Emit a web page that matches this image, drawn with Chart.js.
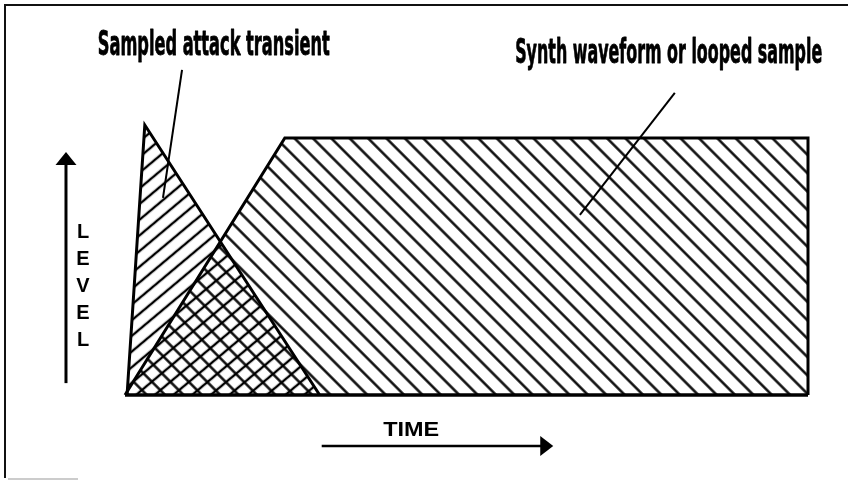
<!DOCTYPE html>
<html><head><meta charset="utf-8">
<script src="https://cdn.jsdelivr.net/npm/chart.js@4"></script>
<style>html,body{margin:0;padding:0;background:#fff;}#wrap{width:857px;height:480px;}</style>
</head><body><div id="wrap"><canvas id="c" width="857" height="480"></canvas></div>
<script>
// ---- data (time / level, arbitrary units 0..100) ----
const transientTime  = [0.3, 2.9, 28.5];
const transientLevel = [0, 100, 0];
const synthTime      = [0, 23.4, 100, 100];
const synthLevel     = [0, 95.2, 95.2, 0];
const baseTime       = [0, 100];
const baseLevel      = [0, 0];
const leaderTransientTime  = [8.35, 5.56];
const leaderTransientLevel = [120.4, 73];
const leaderSynthTime      = [80.5, 66.6];
const leaderSynthLevel     = [111.9, 66.7];
const labelTransient = "Sampled attack transient";
const labelSynth = "Synth waveform or looped sample";
const labelTime = "TIME";
const labelLevel = ["L", "E", "V", "E", "L"];

const pts = (xs, ys) => xs.map((x, i) => ({x, y: ys[i]}));

const canvas = document.getElementById('c');
const ctx = canvas.getContext('2d');

function hatch(angleDeg, spacing, lw) {
  const t = document.createElement('canvas');
  t.width = 64;
  t.height = Math.max(4, Math.round(spacing));
  const g = t.getContext('2d');
  g.fillStyle = '#000';
  g.fillRect(0, (t.height - lw) / 2, 64, lw);
  const p = ctx.createPattern(t, 'repeat');
  p.setTransform(new DOMMatrix().rotateSelf(angleDeg));
  return p;
}
const hatchSynth = hatch(45, 12.5, 2.4);
const hatchTransient = hatch(-40, 11.5, 2.4);

// layout of decorations, in data units
const deco = {
  transientText: {x: 13.0, y: 126.0, w: 232, size: 34},
  synthText: {x: 79.6, y: 123.0, w: 307, size: 34},
  timeText: {x: 41.9, y: -15.2, w: 56, size: 21},
  levelX: -6.15, levelY: [60.7, 50.4, 40.4, 30.4, 20.7], levelSize: 20,
  levelArrow: {x: -8.64, y0: 4.4, y1: 90.0},
  timeArrow: {y: -18.9, x0: 28.8, x1: 62.7}
};

function fitText(c, text, cx, base, width, font, stroke) {
  c.save();
  c.font = font;
  const m = c.measureText(text).width;
  c.translate(cx, base);
  c.scale(width / m, 1);
  c.textAlign = 'center';
  c.textBaseline = 'alphabetic';
  c.fillStyle = '#000';
  c.fillText(text, 0, 0);
  if (stroke) { c.strokeStyle = '#000'; c.lineWidth = stroke; c.lineJoin = 'round'; c.strokeText(text, 0, 0); }
  c.restore();
}

const decorPlugin = {
  id: 'decor',
  afterDraw(chart) {
    const c = chart.ctx, xs = chart.scales.x, ys = chart.scales.y;
    const X = v => xs.getPixelForValue(v), Y = v => ys.getPixelForValue(v);
    c.save();
    // frame
    c.strokeStyle = '#111'; c.lineWidth = 2;
    c.beginPath(); c.moveTo(5, 478); c.lineTo(5, 5); c.lineTo(848, 5); c.stroke();
    c.strokeStyle = '#bbb'; c.lineWidth = 1.5;
    c.beginPath(); c.moveTo(8, 479); c.lineTo(78, 479); c.stroke();
    // labels
    const cond = '"Liberation Sans Narrow", "DejaVu Sans Condensed", sans-serif';
    fitText(c, labelTransient, X(deco.transientText.x), Y(deco.transientText.y), deco.transientText.w, `bold ${deco.transientText.size}px ${cond}`, 0.8);
    fitText(c, labelSynth, X(deco.synthText.x), Y(deco.synthText.y), deco.synthText.w, `bold ${deco.synthText.size}px ${cond}`, 0.8);
    fitText(c, labelTime, X(deco.timeText.x), Y(deco.timeText.y), deco.timeText.w, `bold ${deco.timeText.size}px "Liberation Sans", Arial, sans-serif`, 0);
    // LEVEL
    c.font = `bold ${deco.levelSize}px "Liberation Sans", Arial, sans-serif`;
    c.textAlign = 'center'; c.textBaseline = 'middle'; c.fillStyle = '#000';
    labelLevel.forEach((ch, i) => c.fillText(ch, X(deco.levelX), Y(deco.levelY[i]) + 1));
    // level arrow
    const ax = X(deco.levelArrow.x), ay0 = Y(deco.levelArrow.y0), ay1 = Y(deco.levelArrow.y1);
    c.strokeStyle = '#000'; c.lineWidth = 3;
    c.beginPath(); c.moveTo(ax, ay0); c.lineTo(ax, ay1 + 10); c.stroke();
    c.beginPath(); c.moveTo(ax, ay1); c.lineTo(ax - 10.5, ay1 + 13); c.lineTo(ax + 10.5, ay1 + 13); c.closePath(); c.fill();
    // time arrow
    const ty = Y(deco.timeArrow.y), tx0 = X(deco.timeArrow.x0), tx1 = X(deco.timeArrow.x1);
    c.lineWidth = 2.5;
    c.beginPath(); c.moveTo(tx0, ty); c.lineTo(tx1 - 10, ty); c.stroke();
    c.beginPath(); c.moveTo(tx1, ty); c.lineTo(tx1 - 13, ty - 10); c.lineTo(tx1 - 13, ty + 10); c.closePath(); c.fill();
    c.restore();
  }
};

const common = {pointRadius: 0, tension: 0, clip: false, borderColor: '#000', borderJoinStyle: 'miter', borderCapStyle: 'butt'};

new Chart(ctx, {
  type: 'line',
  data: {
    datasets: [
      Object.assign({label: 'leader1', data: pts(leaderTransientTime, leaderTransientLevel), fill: false, borderWidth: 2}, common),
      Object.assign({label: 'leader2', data: pts(leaderSynthTime, leaderSynthLevel), fill: false, borderWidth: 2}, common),
      Object.assign({label: 'base', data: pts(baseTime, baseLevel), fill: false, borderWidth: 3.5}, common),
      Object.assign({label: labelTransient, data: pts(transientTime, transientLevel), fill: 'origin', backgroundColor: hatchTransient, borderWidth: 3}, common),
      Object.assign({label: labelSynth, data: pts(synthTime, synthLevel), fill: 'origin', backgroundColor: hatchSynth, borderWidth: 3}, common)
    ]
  },
  options: {
    responsive: false, animation: false, events: [],
    layout: {padding: {left: 125, right: 49, top: 125, bottom: 85}},
    scales: {
      x: {type: 'linear', min: 0, max: 100, display: false},
      y: {type: 'linear', min: 0, max: 100, display: false}
    },
    plugins: {legend: {display: false}, tooltip: {enabled: false}, title: {display: false}}
  },
  plugins: [decorPlugin]
});
</script>
</body></html>
